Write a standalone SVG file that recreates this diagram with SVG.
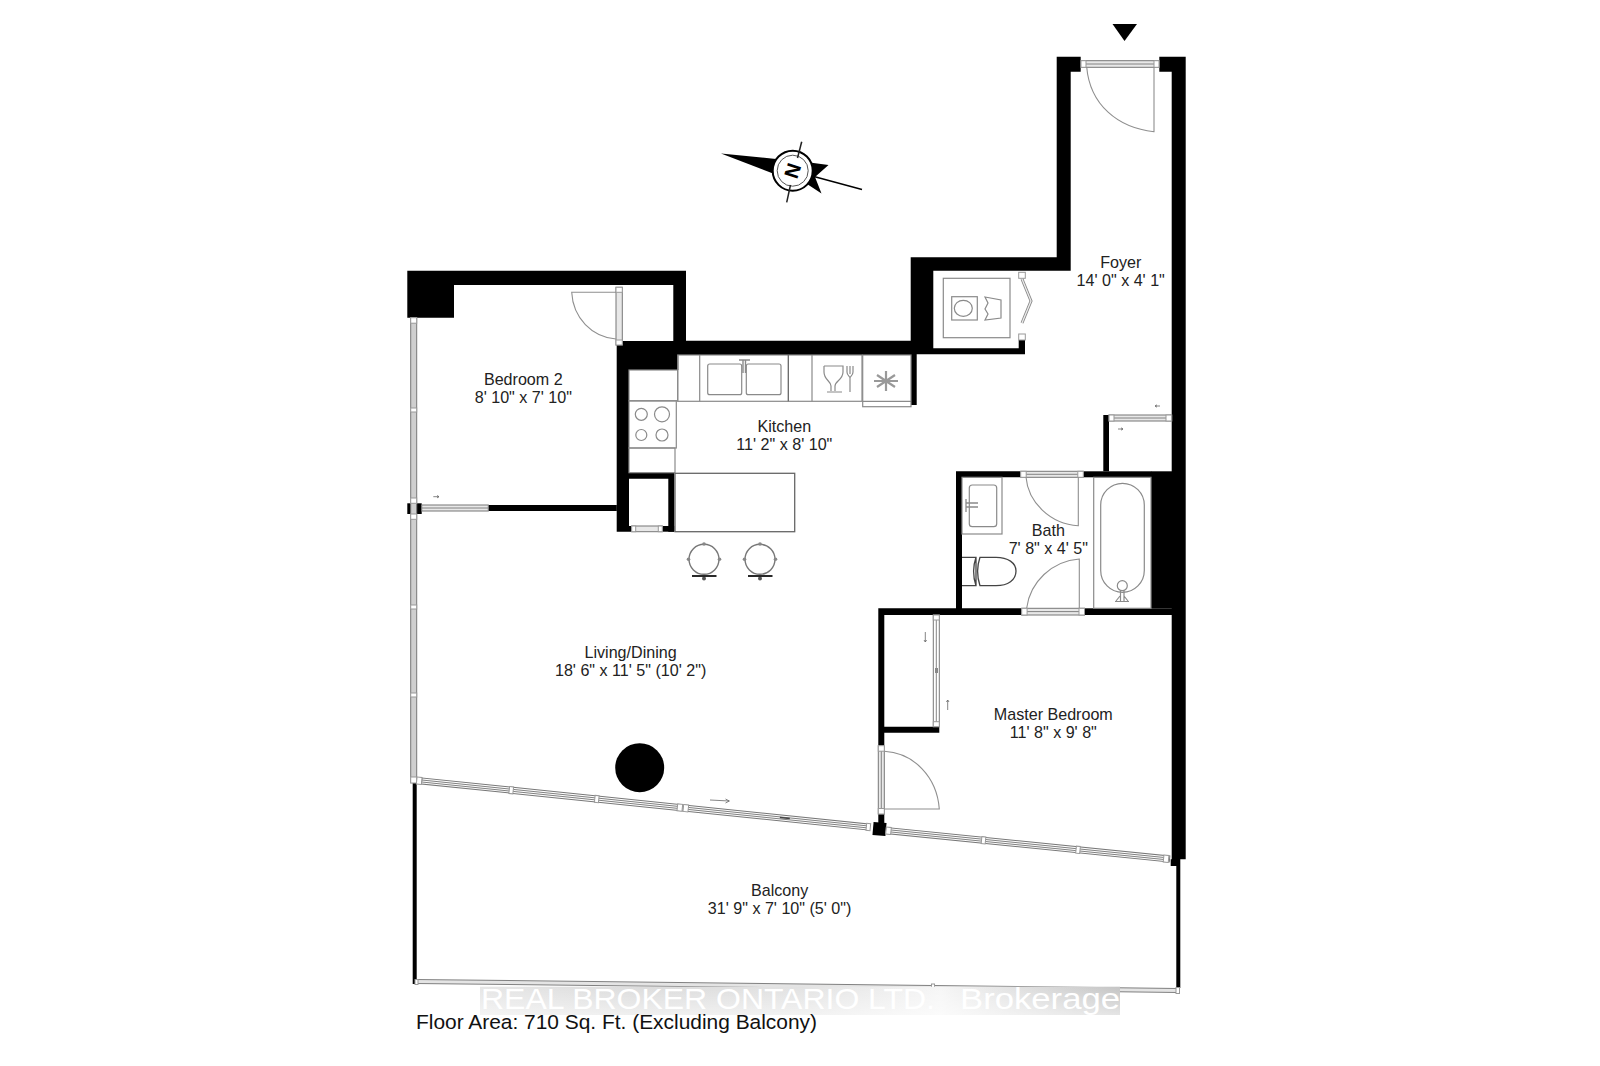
<svg xmlns="http://www.w3.org/2000/svg" width="1600" height="1066" viewBox="0 0 1600 1066">
<style>
.w{fill:#000;stroke:none}
.f{fill:none;stroke:#8a8a8a;stroke-width:1.2}
.fd{fill:none;stroke:#666;stroke-width:1.3}
.d{fill:none;stroke:#8f8f8f;stroke-width:1.1}
.fr{fill:#fff;stroke:#777;stroke-width:1}
.m{fill:#fff;stroke:#999;stroke-width:1}
.g{fill:#e8e8e8;stroke:#777;stroke-width:1}
.gl{fill:#cfcfcf;stroke:#777;stroke-width:1}
.l{stroke:#777;stroke-width:.9;fill:none}
.a{stroke:#666;stroke-width:.8;fill:none}
text{font-family:"Liberation Sans",Arial,sans-serif}
.t{font-size:16.1px;fill:#222;text-anchor:middle}
</style>
<defs>
<linearGradient id="wm" x1="0" x2="1" y1="0" y2="0">
<stop offset="0" stop-color="#e6e6e6"/><stop offset=".25" stop-color="#dcdcdc"/><stop offset=".5" stop-color="#e2e2e2"/><stop offset=".72" stop-color="#f6f6f6"/><stop offset="1" stop-color="#c4c4c4"/>
</linearGradient>
<linearGradient id="fade" x1="0" x2="0" y1="0" y2="1">
<stop offset="0" stop-color="#fff" stop-opacity="0"/><stop offset="1" stop-color="#fff" stop-opacity=".55"/>
</linearGradient>
</defs>
<rect width="1600" height="1066" fill="#fff"/>

<g id="entry-marker"><polygon class="w" points="1112.5,24 1137,24 1124.5,41"/></g>

<g id="compass">
<polygon class="w" points="721,153.5 776,159 773,173.5"/>
<polygon class="w" points="806,162 828.5,165 815,177 821.5,193.5 804,182"/>
<line x1="812" y1="176" x2="862" y2="189.5" stroke="#000" stroke-width="1.4"/>
<circle cx="792.7" cy="170.7" r="20" fill="#fff" stroke="#000" stroke-width="2"/>
<circle cx="792.7" cy="170.7" r="15.5" fill="none" stroke="#555" stroke-width="1"/>
<line x1="801.7" y1="141.7" x2="797.5" y2="158" stroke="#222" stroke-width="1.5"/>
<line x1="786.7" y1="202.3" x2="790.5" y2="185" stroke="#222" stroke-width="1.5"/>
<text x="792.7" y="177.5" text-anchor="middle" font-size="20" font-weight="700" fill="#000" transform="rotate(-72 792.7 170.7)">N</text>
</g>

<g id="walls">
<path class="w" d="M1056.7 56.7H1080.7V71.7H1070.7V270.7H933.3V348.3H1018.7V340H1025V354.3H916.7V405H911V355H678.3V370H629V472.7H674.3V531.7H668.3V478.7H629V526H631.7V531.7H616.7V345H622V341H673.3V285H454V317.7H407.3V270.7H686V340.7H910.7V257.3H1056.7Z"/>
<rect class="w" x="662.3" y="526" width="12" height="5.7"/>
<path class="w" d="M1159.3 56.7H1185.7V859.3H1180.3V988H1176.3V866H1170.7V859.3H1171.7V71.7H1159.3Z"/>
<rect class="w" x="1151" y="471.3" width="22" height="137"/>
<rect class="w" x="488.3" y="505" width="128.5" height="6"/>
<rect class="w" x="407.3" y="503.3" width="14.4" height="10.7"/>
<rect class="w" x="1103.3" y="415" width="5.7" height="56.3"/>
<path class="w" d="M956 471.3H1020.7V477.3H962V608.3H1021.7V615H884.3V726.7H939.3V732.7H884.3V745H878.3V608.3H956Z"/>
<rect class="w" x="1083.3" y="471.3" width="68" height="6"/>
<rect class="w" x="1084.5" y="608.3" width="90" height="6.7"/>
<rect class="w" x="878.3" y="814" width="6" height="12"/>
<rect class="w" x="873" y="822.5" width="13" height="13" transform="rotate(5 879.5 829)"/>
<rect class="w" x="412.7" y="783" width="4" height="201"/>
<circle class="w" cx="639.7" cy="767.7" r="24.5"/>
</g>

<g id="windows">
<rect class="gl" x="410.7" y="317.7" width="6" height="465"/>
<rect class="m" x="410.7" y="317.7" width="6" height="5.5"/>
<rect class="m" x="410.7" y="408" width="6" height="4"/>
<rect class="m" x="410.7" y="498" width="6" height="5.3"/>
<rect class="m" x="410.7" y="514" width="6" height="5.3"/>
<rect class="m" x="410.7" y="605" width="6" height="4"/>
<rect class="m" x="410.7" y="693" width="6" height="4"/>
<rect class="m" x="410.7" y="777" width="6" height="6"/>
<g transform="translate(421.7 781) rotate(5.88)">
<rect class="fr" x="0" y="-3" width="449" height="6"/>
<line class="l" x1="0" y1="-1" x2="449" y2="-1"/><line class="l" x1="0" y1="1" x2="449" y2="1"/>
<rect class="m" x="-5" y="-3.5" width="5" height="7"/><rect class="m" x="88" y="-3.5" width="4" height="7"/><rect class="m" x="174" y="-3.5" width="4" height="7"/><rect class="m" x="257" y="-3.5" width="5" height="7"/><rect class="m" x="263" y="-3.5" width="5" height="7"/><rect class="m" x="447" y="-3.5" width="4" height="7"/>
<line x1="360" y1="-.5" x2="370" y2="-.5" stroke="#444" stroke-width="1.5"/>
</g>
<g transform="translate(886 830.5) rotate(5.75)">
<rect class="fr" x="0" y="-3" width="285" height="6"/>
<line class="l" x1="0" y1="-1" x2="285" y2="-1"/><line class="l" x1="0" y1="1" x2="285" y2="1"/>
<rect class="m" x="0" y="-3.5" width="5" height="7"/><rect class="m" x="96" y="-3.5" width="4" height="7"/><rect class="m" x="191" y="-3.5" width="4" height="7"/><rect class="m" x="279" y="-3.5" width="5" height="7"/>
</g>
<line x1="415" y1="981.5" x2="1178" y2="990.5" stroke="#808080" stroke-width="5"/>
<line x1="415" y1="981.5" x2="1178" y2="990.5" stroke="#e4e4e4" stroke-width="3"/>
<rect class="m" x="415" y="979.5" width="3" height="5"/>
<rect class="m" x="931.5" y="984" width="3" height="5.5"/>
<rect class="m" x="1176" y="987.5" width="3.5" height="6"/>
</g>

<g id="doors">
<rect class="g" x="1081" y="60.7" width="78" height="6.6"/>
<line class="l" x1="1081" y1="64" x2="1159" y2="64"/>
<rect class="m" x="1081" y="60.7" width="5" height="6.6"/><rect class="m" x="1154" y="60.7" width="5" height="6.6"/>
<path class="d" d="M1154 67V131.7C1118 128 1090 105 1086.7 67"/>

<rect class="m" x="1018.7" y="272.3" width="6.6" height="6"/>
<rect class="m" x="1018.7" y="334" width="6.6" height="6"/>
<path d="M1022 279L1031 301L1022 323" fill="none" stroke="#8a8a8a" stroke-width="3"/>
<path d="M1022 279L1031 301L1022 323" fill="none" stroke="#eee" stroke-width="1.2"/>

<rect class="g" x="616" y="287.3" width="6.3" height="57.7"/>
<rect class="m" x="616" y="287.3" width="6.3" height="5"/><rect class="m" x="616" y="340" width="6.3" height="5"/>
<path class="d" d="M616 292.3H571.7C573 318 592 337 616 339"/>

<rect class="g" x="421.7" y="505" width="66.6" height="6"/>
<line class="l" x1="421.7" y1="508" x2="488.3" y2="508"/>
<path class="a" d="M433.3 496.7H439M437 495.5L439 496.7L437 497.9"/>

<rect class="g" x="631.7" y="526" width="30.6" height="5.7"/>
<rect class="m" x="631.7" y="526" width="4" height="5.7"/><rect class="m" x="658.3" y="526" width="4" height="5.7"/>

<rect class="g" x="1109" y="415" width="62.7" height="6"/>
<line class="l" x1="1109" y1="418" x2="1171.7" y2="418"/>
<rect class="m" x="1109" y="415" width="5" height="6"/><rect class="m" x="1166" y="415" width="5.7" height="6"/>
<path class="a" d="M1160 406H1155M1157 404.8L1155 406L1157 407.2"/>
<path class="a" d="M1118 429H1123M1121 427.8L1123 429L1121 430.2"/>

<rect class="g" x="1020.7" y="471.3" width="62.6" height="6"/>
<line class="l" x1="1026" y1="474.3" x2="1078" y2="474.3"/>
<rect class="m" x="1020.7" y="471.3" width="5.5" height="6"/><rect class="m" x="1077.8" y="471.3" width="5.5" height="6"/>
<path class="d" d="M1078.3 477V525.7C1050 524 1028 502 1026 477"/>

<rect class="g" x="1021.7" y="608.3" width="62.8" height="6.7"/>
<line class="l" x1="1027" y1="611.6" x2="1079" y2="611.6"/>
<rect class="m" x="1021.7" y="608.3" width="5.4" height="6.7"/><rect class="m" x="1079" y="608.3" width="5.5" height="6.7"/>
<path class="d" d="M1079.3 608V559C1052 561 1030 582 1026.7 608"/>

<rect class="fr" x="933.3" y="615" width="6" height="111.7"/>
<line class="l" x1="936.3" y1="618" x2="936.3" y2="722"/>
<rect x="935" y="668" width="3" height="5" fill="#888"/>
<rect class="m" x="933.3" y="615" width="6" height="5"/><rect class="m" x="933.3" y="721.7" width="6" height="5"/>
<path class="a" d="M925.3 632V642M924 640L925.3 642L926.6 640"/>
<path class="a" d="M947.7 710V700M946.4 702L947.7 700L949 702"/>

<rect class="g" x="878.3" y="745.7" width="6" height="68.3"/>
<line class="l" x1="881.3" y1="745.7" x2="881.3" y2="814"/>
<rect class="m" x="878.3" y="745.7" width="6" height="5.5"/><rect class="m" x="878.3" y="808.5" width="6" height="5.5"/>
<path class="d" d="M884.3 751.3C914 753 937 777 939.3 809H884.3"/>

<path class="a" d="M710 800L729.3 801M725.5 799L729.3 801L725.5 803"/>
</g>

<g id="laundry">
<rect class="f" x="943.3" y="278.3" width="66.7" height="59.4"/>
<rect class="f" x="951.7" y="296.7" width="25.6" height="23.3"/>
<ellipse class="f" cx="963.3" cy="308.3" rx="9" ry="8"/>
<path class="f" d="M985 297L1001 300V318L985 320L988 314L985 309L988 303Z"/>
</g>

<g id="kitchen">
<rect class="f" x="677.7" y="355" width="184.3" height="46.3"/>
<line class="f" x1="699.7" y1="355" x2="699.7" y2="401.3"/>
<line class="fd" x1="788.3" y1="355" x2="788.3" y2="401.3"/>
<line class="f" x1="812" y1="355" x2="812" y2="401.3"/>
<rect class="f" x="862.7" y="355" width="48.3" height="51.7"/>
<line class="f" x1="862.7" y1="401.3" x2="911" y2="401.3"/>
<rect class="f" x="707.7" y="364" width="34" height="30.7" rx="2"/>
<rect class="f" x="746.3" y="364" width="34.7" height="30.7" rx="2"/>
<path d="M739 360H750M743 360V373M745.5 360V373" fill="none" stroke="#8a8a8a" stroke-width="1.4"/>
<path class="f" d="M824 366H843V372C843 380 835 381 835 386V391M824 366V372C824 380 831 381 831 386V391M827 392H842"/>
<path class="f" d="M847 366V372C847 376 850 376 850 378V392M850 366V374M853 366V372C853 376 850 376 850 378"/>
<path d="M886 371V391M877 375L895 387M877 387L895 375M874 381H898" fill="none" stroke="#999" stroke-width="2.2"/>

<rect class="f" x="629" y="370" width="48.7" height="30.7"/>
<rect class="f" x="629" y="401" width="47.3" height="47"/>
<circle class="f" cx="641.3" cy="414.3" r="6"/><circle class="f" cx="662" cy="414.3" r="7.5"/><circle class="f" cx="641.3" cy="435" r="5.5"/><circle class="f" cx="662" cy="435" r="6"/>
<rect class="f" x="629" y="448" width="46" height="24.7"/>
<rect class="fd" x="675" y="473.3" width="119.7" height="58.4"/>
</g>

<g id="stools">
<g>
<circle cx="704" cy="559.3" r="15" fill="none" stroke="#777" stroke-width="1.4"/>
<circle cx="704" cy="544" r="1.8" fill="#888"/><circle cx="688.5" cy="559.3" r="1.8" fill="#888"/><circle cx="719.5" cy="559.3" r="1.8" fill="#888"/><circle cx="704" cy="578.5" r="2" fill="#555"/>
<line x1="692" y1="576" x2="716.5" y2="576" stroke="#111" stroke-width="1.8"/>
</g>
<g>
<circle cx="760" cy="559.3" r="15" fill="none" stroke="#777" stroke-width="1.4"/>
<circle cx="760" cy="544" r="1.8" fill="#888"/><circle cx="744.5" cy="559.3" r="1.8" fill="#888"/><circle cx="775.5" cy="559.3" r="1.8" fill="#888"/><circle cx="760" cy="578.5" r="2" fill="#555"/>
<line x1="748" y1="576" x2="772.5" y2="576" stroke="#111" stroke-width="1.8"/>
</g>
</g>

<g id="bath">
<rect class="f" x="962" y="477.3" width="40" height="56.7"/>
<rect class="f" x="969.3" y="485" width="27.4" height="41.7" rx="3"/>
<path d="M966 499V512M966 503H978M966 507H978" fill="none" stroke="#8a8a8a" stroke-width="1.3"/>
<path d="M962 557.3H976V585.7H962M976 557.3C973 566 973 577 976 585.7M980 557.3H996C1008 557.3 1016 563 1016 571C1016 580 1008 585.7 996 585.7H980C977 577 977 566 980 557.3Z" fill="none" stroke="#444" stroke-width="1.3"/>
<rect class="f" x="1093.7" y="477.3" width="57.3" height="131"/>
<rect class="f" x="1100.7" y="483.3" width="43.6" height="109" rx="21.8"/>
<circle cx="1122.3" cy="585.7" r="5" fill="#fff" stroke="#8a8a8a" stroke-width="1.2"/>
<path class="f" d="M1120.5 591V601M1124 591V601M1116 601L1120 596M1128 601L1124 596M1115 601.5H1129"/>
</g>

<g id="labels">
<text class="t" x="1120.7" y="268.3">Foyer</text>
<text class="t" x="1120.7" y="286">14' 0" x 4' 1"</text>
<text class="t" x="523.3" y="385">Bedroom 2</text>
<text class="t" x="523.3" y="403.3">8' 10" x 7' 10"</text>
<text class="t" x="784.3" y="431.7">Kitchen</text>
<text class="t" x="784.3" y="450">11' 2" x 8' 10"</text>
<text class="t" x="1048.3" y="536">Bath</text>
<text class="t" x="1048.3" y="554">7' 8" x 4' 5"</text>
<text class="t" x="1053.3" y="720">Master Bedroom</text>
<text class="t" x="1053.3" y="738.3">11' 8" x 9' 8"</text>
<text class="t" x="630.6" y="658">Living/Dining</text>
<text class="t" x="630.6" y="675.5">18' 6" x 11' 5" (10' 2")</text>
<text class="t" x="779.6" y="896">Balcony</text>
<text class="t" x="779.6" y="914">31' 9" x 7' 10" (5' 0")</text>
</g>

<g id="watermark">
<rect x="480" y="986.7" width="640" height="28.3" fill="url(#wm)"/>
<rect x="480" y="986.7" width="640" height="28.3" fill="url(#fade)"/>
<text x="481" y="1009.3" font-size="30" fill="#fff" textLength="454" lengthAdjust="spacingAndGlyphs">REAL BROKER ONTARIO LTD.</text>
<text x="960" y="1009.3" font-size="30" fill="#fff" textLength="160" lengthAdjust="spacingAndGlyphs">Brokerage</text>
</g>

<text id="floor-area" x="416" y="1029.3" font-size="20.5" fill="#111" textLength="401" lengthAdjust="spacingAndGlyphs">Floor Area: 710 Sq. Ft. (Excluding Balcony)</text>
</svg>
